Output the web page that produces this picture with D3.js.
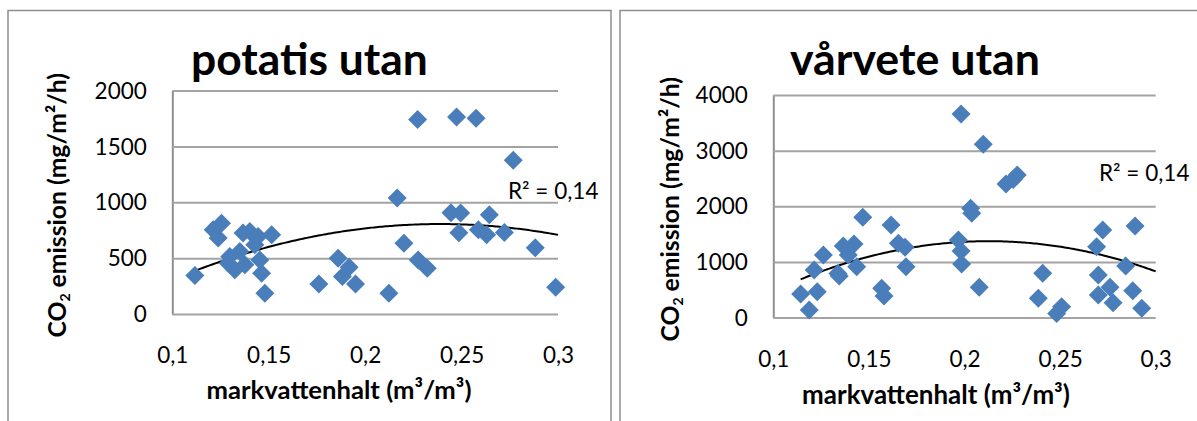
<!DOCTYPE html>
<html>
<head>
<meta charset="utf-8">
<script src="https://cdn.jsdelivr.net/npm/d3@7"></script>
<style>
  body { margin: 0; background: #fff; }
  text { font-family: Lato, "Open Sans", sans-serif; fill: #000; }
</style>
</head>
<body>
<svg id="chart" width="1197" height="421"></svg>
<script>
// values
const titles = ["potatis utan", "vårvete utan"];
const xTicks = [0.1, 0.15, 0.2, 0.25, 0.3];
const xTickLabels = ["0,1", "0,15", "0,2", "0,25", "0,3"];
const potatisYTicks = [0, 500, 1000, 1500, 2000];
const varveteYTicks = [0, 1000, 2000, 3000, 4000];
const r2Label = "R² = 0,14";

const potatisX = [0.1117, 0.1212, 0.1255, 0.1238, 0.129, 0.1298, 0.1324, 0.135, 0.1376, 0.1367,
  0.1402, 0.1428, 0.1445, 0.1454, 0.1463, 0.148, 0.1515, 0.176, 0.186, 0.1882,
  0.1917, 0.195, 0.2123, 0.2166, 0.2201, 0.2272, 0.2275, 0.2322, 0.2445, 0.2474,
  0.2495, 0.2486, 0.2575, 0.2587, 0.263, 0.2644, 0.2722, 0.2768, 0.2882, 0.2988];
const potatisY = [344, 753, 813, 679, 455, 514, 395, 559, 440, 724,
  738, 619, 693, 484, 365, 186, 709, 269, 499, 335,
  419, 269, 185, 1037, 634, 1740, 484, 410, 906, 1762,
  903, 727, 1752, 753, 709, 888, 730, 1375, 592, 239];

const varveteX = [0.1143, 0.1188, 0.123, 0.1214, 0.1262, 0.1345, 0.1338, 0.1366, 0.1392, 0.1422,
  0.1436, 0.1468, 0.1567, 0.1579, 0.1616, 0.1654, 0.1689, 0.1694, 0.1968, 0.1982,
  0.1982, 0.1985, 0.2032, 0.2038, 0.2077, 0.2098, 0.2217, 0.2255, 0.2276, 0.2386,
  0.2409, 0.2482, 0.2508, 0.2691, 0.2723, 0.27, 0.27, 0.2761, 0.2777, 0.2843,
  0.288, 0.2892, 0.2927];
const varveteY = [423, 135, 464, 854, 1124, 746, 790, 1286, 1124, 1322,
  914, 1801, 525, 387, 1663, 1334, 1262, 914, 1393, 3659,
  1196, 962, 1963, 1873, 543, 3114, 2400, 2480, 2562, 345,
  795, 72, 192, 1273, 1573, 764, 405, 543, 266, 926,
  482, 1645, 165];

// 2nd order trendlines: [curvature, top x, top y]
const potatisTrend = [-25887, 0.2389, 805];
const varveteTrend = [-71000, 0.2126, 1372];

const BLUE = "#4a7ebb";
const FS = 22.5;

const svg = d3.select("#chart");
svg.append("rect").attr("width", 1197).attr("height", 421).attr("fill", "#fff");

const panels = [
  { title: titles[0], xs: potatisX, ys: potatisY, yTicks: potatisYTicks, trend: potatisTrend,
    frameX: 8, x0: 172.3, x1: 558, yTop: 90.5, yBot: 314,
    titleX: 191, titleW: 237, yTitleX: 65.5, xTitleCx: 339, xTitleW: 265,
    xTitleY: 399, r2X: 508, r2Y: 199 },
  { title: titles[1], xs: varveteX, ys: varveteY, yTicks: varveteYTicks, trend: varveteTrend,
    frameX: 620, x0: 773.3, x1: 1155.7, yTop: 95, yBot: 317.5,
    titleX: 790, titleW: 250, yTitleX: 678.5, xTitleCx: 936, xTitleW: 268,
    xTitleY: 404, r2X: 1099, r2Y: 181 }
];

function fitWidth(sel, w) {
  const len = sel.node().getComputedTextLength();
  const fs = parseFloat(sel.attr("font-size"));
  sel.attr("font-size", fs * w / len);
}

panels.forEach(p => {
  const g = svg.append("g");

  g.append("rect")
    .attr("x", p.frameX).attr("y", 10.5)
    .attr("width", p.frameX === 8 ? 603 : 700).attr("height", 500)
    .attr("fill", "none").attr("stroke", "#8e8e8e").attr("stroke-width", 1.5);

  const x = d3.scaleLinear().domain([0.1, 0.3]).range([p.x0, p.x1]);
  const y = d3.scaleLinear().domain([0, d3.max(p.yTicks)]).range([p.yBot, p.yTop]);

  const yAxis = g.append("g")
    .attr("transform", `translate(${p.x0},0)`)
    .call(d3.axisLeft(y).tickValues(p.yTicks).tickSize(-(p.x1 - p.x0)).tickSizeOuter(0)
      .tickPadding(25.5).tickFormat(d3.format("d")));
  yAxis.selectAll(".tick line").attr("stroke", "#a3a3a3").attr("stroke-width", 2);
  yAxis.select(".domain").attr("stroke", "#8e8e8e").attr("stroke-width", 2);
  yAxis.selectAll(".tick text").attr("font-size", FS).attr("font-family", null).attr("dy", "0.34em");

  const xAxis = g.append("g")
    .attr("transform", `translate(0,${p.yBot})`)
    .call(d3.axisBottom(x).tickValues(xTicks).tickSize(0).tickPadding(0)
      .tickFormat((d, i) => xTickLabels[i]));
  xAxis.select(".domain").remove();
  xAxis.selectAll(".tick text").attr("font-size", FS).attr("font-family", null)
    .attr("y", 49).attr("dy", null);

  // trendline
  const [a, h, k] = p.trend;
  const f = v => k + a * (v - h) * (v - h);
  const tx = d3.range(d3.min(p.xs), 0.3, 0.001).concat([0.3]);
  g.append("path")
    .attr("d", d3.line().x(d => x(d)).y(d => y(f(d)))(tx))
    .attr("fill", "none").attr("stroke", "#000").attr("stroke-width", 2);

  const r = 9.5;
  g.append("g").selectAll("path")
    .data(p.xs.map((d, i) => [d, p.ys[i]]))
    .join("path")
    .attr("transform", d => `translate(${x(d[0])},${y(d[1])})`)
    .attr("d", `M0,${-r}L${r},0L0,${r}L${-r},0Z`)
    .attr("fill", BLUE);

  g.append("text")
    .attr("x", p.r2X).attr("y", p.r2Y)
    .attr("font-size", FS)
    .text(r2Label);

  const title = g.append("text")
    .attr("x", p.titleX).attr("y", 75)
    .attr("font-size", 42).attr("font-weight", "bold")
    .text(p.title);
  fitWidth(title, p.titleW);

  const cy = (p.yTop + p.yBot) / 2 + 3;
  const yt = g.append("text")
    .attr("transform", `translate(${p.yTitleX},${cy}) rotate(-90)`)
    .attr("text-anchor", "middle")
    .attr("font-size", 21).attr("font-weight", "bold");
  yt.append("tspan").text("CO");
  yt.append("tspan").attr("font-size", 14).attr("dy", 4).text("2");
  yt.append("tspan").attr("dy", -4).text(" emission (mg/m²/h)");
  fitWidth(yt, 266);

  const xt = g.append("text")
    .attr("x", p.xTitleCx).attr("y", p.xTitleY)
    .attr("text-anchor", "middle")
    .attr("font-size", 21).attr("font-weight", "bold")
    .text("markvattenhalt (m³/m³)");
  fitWidth(xt, p.xTitleW);
});
</script>
</body>
</html>
